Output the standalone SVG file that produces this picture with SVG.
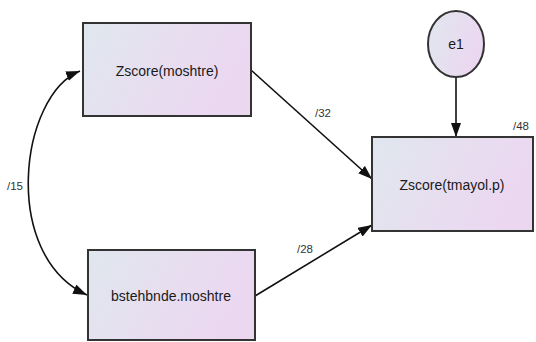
<svg xmlns="http://www.w3.org/2000/svg" width="536" height="342" viewBox="0 0 536 342">
<defs>
<linearGradient id="g" x1="0" y1="0" x2="1" y2="0.3">
<stop offset="0" stop-color="#e0e7ee"/>
<stop offset="1" stop-color="#ecd7f1"/>
</linearGradient>
<marker id="ah" viewBox="0 0 14 10" refX="14" refY="5" markerWidth="14" markerHeight="10" markerUnits="userSpaceOnUse" orient="auto-start-reverse">
<path d="M0,0 L14,5 L0,10 Z" fill="#111"/>
</marker>
<style>
.box{fill:url(#g);stroke:#333;stroke-width:2}
.t{font-family:"Liberation Sans",Arial,sans-serif;font-size:14px;fill:#1a1a1a;text-anchor:middle}
.l{font-family:"Liberation Sans",Arial,sans-serif;font-size:11.5px;fill:#333}
.c{fill:none;stroke:#111;stroke-width:1.6}
</style>
</defs>
<rect width="536" height="342" fill="#fff"/>
<g id="connectors">
<path class="c" d="M80,71 C20,95 0,255 87,295" marker-start="url(#ah)" marker-end="url(#ah)"/>
<path class="c" d="M251,70 L372,179" marker-end="url(#ah)"/>
<path class="c" d="M255,296 L372,225" marker-end="url(#ah)"/>
<path class="c" d="M456,77 L456,137" marker-end="url(#ah)"/>
<text class="l" x="7" y="190">/15</text>
<text class="l" x="315" y="117">/32</text>
<text class="l" x="297" y="253">/28</text>
<text class="l" x="513" y="130">/48</text>
</g>
<g id="moshtre">
<rect class="box" x="83" y="23" width="168" height="93"/>
<text class="t" x="167" y="76">Zscore(moshtre)</text>
</g>
<g id="bstehbnde">
<rect class="box" x="88" y="250" width="167" height="90"/>
<text class="t" x="171" y="301">bstehbnde.moshtre</text>
</g>
<g id="tmayol">
<rect class="box" x="372" y="137" width="161" height="94"/>
<text class="t" x="452" y="190">Zscore(tmayol.p)</text>
</g>
<g id="e1">
<ellipse class="box" cx="456" cy="44" rx="28" ry="33"/>
<text class="t" x="456" y="49">e1</text>
</g>
</svg>
